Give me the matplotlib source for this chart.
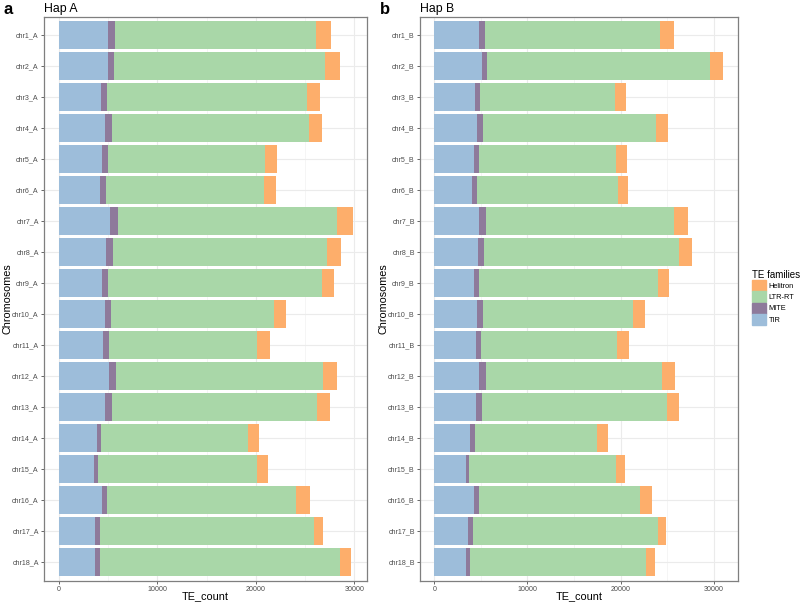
import matplotlib
matplotlib.use("Agg")
import matplotlib.pyplot as plt
from matplotlib.patches import Patch
from matplotlib.ticker import MultipleLocator
import numpy as np

plt.rcParams['font.family'] = ['Liberation Sans', 'DejaVu Sans']

families = ["TIR", "MITE", "LTR-RT", "Helitron"]
colors = {"TIR": "#9DBDDA", "MITE": "#8E7A9B", "LTR-RT": "#A9D7A8", "Helitron": "#FDAE6B"}

chroms_a = [f"chr{i}_A" for i in range(1, 19)]
chroms_b = [f"chr{i}_B" for i in range(1, 19)]

# counts per chromosome
tir_a = [5010, 5000, 4340, 4680, 4410, 4170, 5250, 4780, 4370, 4710, 4540, 5090, 4680, 3860, 3590, 4370, 3730, 3700]
mite_a = [680, 590, 610, 680, 610, 610, 750, 680, 650, 610, 540, 710, 680, 440, 410, 580, 440, 440]
ltr_a = [20440, 21420, 20240, 20030, 15860, 16030, 22240, 21760, 21730, 16510, 15080, 21050, 20810, 14920, 16140, 19150, 21700, 24440]
hel_a = [1530, 1530, 1290, 1360, 1260, 1220, 1560, 1420, 1190, 1250, 1290, 1420, 1360, 1050, 1050, 1390, 950, 1020]

tir_b = [4830, 5080, 4340, 4620, 4230, 4090, 4830, 4690, 4230, 4620, 4440, 4830, 4440, 3840, 3380, 4260, 3660, 3340]
mite_b = [640, 570, 570, 600, 570, 530, 670, 640, 570, 600, 530, 670, 640, 500, 350, 530, 530, 460]
ltr_b = [18780, 24000, 14480, 18600, 14660, 15090, 20240, 20950, 19210, 16120, 14700, 18920, 19920, 13170, 15730, 17250, 19840, 18920]
hel_b = [1490, 1380, 1210, 1310, 1240, 1070, 1460, 1380, 1210, 1310, 1280, 1420, 1310, 1100, 1070, 1390, 890, 960]

fig = plt.figure(figsize=(8, 6.03), dpi=100)
ax1 = fig.add_axes([0.055, 0.0373, 0.404, 0.9353])
ax2 = fig.add_axes([0.525, 0.0373, 0.397, 0.9353])


def draw(ax, chroms, data, title, letter, ylab_x):
    y = np.arange(len(chroms))
    left = np.zeros(len(chroms))
    for fam, vals in zip(families, data):
        ax.barh(y, vals, left=left, height=0.9, color=colors[fam], zorder=2)
        left = left + np.array(vals)
    ax.set_yticks(y)
    ax.set_yticklabels(chroms)
    ax.set_ylim(len(chroms) - 0.4, -0.6)
    xmax = left.max()
    ax.set_xlim(-0.05 * xmax, 1.05 * xmax)
    ax.xaxis.set_major_locator(MultipleLocator(10000))
    ax.xaxis.set_minor_locator(MultipleLocator(5000))
    ax.grid(which="major", color="#EBEBEB", lw=0.8, zorder=0)
    ax.grid(which="minor", axis="x", color="#F2F2F2", lw=0.5, zorder=0)
    ax.tick_params(axis="both", labelsize=5.1, colors="#4D4D4D", length=2.5, width=0.6, pad=1.2)
    ax.tick_params(which="minor", length=0)
    for s in ax.spines.values():
        s.set_color("#7F7F7F")
        s.set_linewidth(0.9)
    ax.set_xlabel("TE_count", fontsize=7.8)
    ax.set_ylabel("Chromosomes", fontsize=7.8)
    ax.xaxis.set_label_coords(0.5, -0.019)
    ax.yaxis.set_label_coords(ylab_x, 0.5)
    ax.set_title(title, fontsize=8.8, loc="left", pad=3)
    ax.text(-0.125, 1.0, letter, transform=ax.transAxes, fontsize=12, fontweight="bold", va="bottom")


draw(ax1, chroms_a, [tir_a, mite_a, ltr_a, hel_a], "Hap A", "a", -0.097)
draw(ax2, chroms_b, [tir_b, mite_b, ltr_b, hel_b], "Hap B", "b", -0.1)

handles = [Patch(color=colors[f], label=f) for f in ["Helitron", "LTR-RT", "MITE", "TIR"]]
leg = fig.legend(handles=handles, title="TE families", loc="center left",
                 bbox_to_anchor=(0.939, 0.507), frameon=False, fontsize=5.3,
                 title_fontsize=7, handlelength=1.9, handleheight=1.9,
                 handletextpad=0.35, labelspacing=0.05, borderpad=0.1,
                 borderaxespad=0)
leg._legend_box.align = "left"

fig.savefig("out.png", dpi=100)
